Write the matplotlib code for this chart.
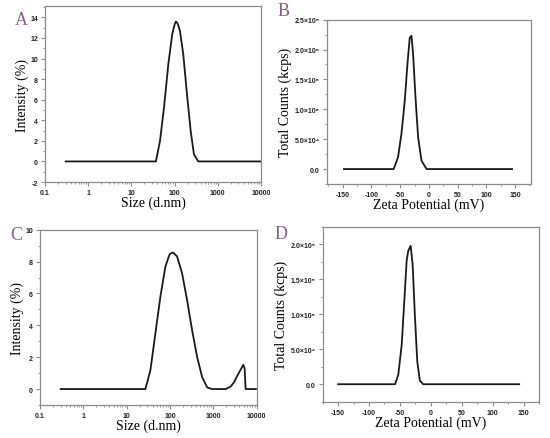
import numpy as np
import matplotlib
matplotlib.use("Agg")
import matplotlib.pyplot as plt
from matplotlib.ticker import AutoMinorLocator, LogLocator, NullFormatter

# Panel A - size distribution (DLS)
size_a = [0.3, 37, 45.9, 56.9, 71.6, 88.5, 100, 107.7, 118, 133, 159, 197, 236, 281, 354, 10000]
int_a = [0, 0, 1.98, 5.23, 9.45, 12.4, 13.3, 13.6, 13.4, 12.7, 10.4, 6.2, 2.95, 0.68, 0, 0]

# Panel B - zeta potential
zeta_b = [-148, -61.3, -53.7, -47.8, -42, -37.3, -33.3, -30.3, -27.5, -23.3, -18.7, -12.8, -4, 145]
cnt_b = [0, 0, 0.2e5, 0.59e5, 1.14e5, 1.76e5, 2.2e5, 2.23e5, 1.93e5, 1.2e5, 0.53e5, 0.14e5, 0, 0]

# Panel C - size distribution with second population
size_c = [0.3, 27, 35.2, 45.9, 60, 78.3, 98.8, 117.9, 146, 190, 248, 324, 424, 553, 721, 942,
          1914, 2500, 2985, 3566, 4264, 4910, 5270, 5560, 9600]
int_c = [0, 0, 1.16, 3.47, 5.79, 7.69, 8.48, 8.57, 8.32, 7.26, 5.58, 3.68, 2.0, 0.74, 0.1, 0,
         0, 0.15, 0.42, 0.84, 1.22, 1.52, 1.3, 0, 0]

# Panel D - zeta potential
zeta_d = [-150, -57.9, -52.6, -47.1, -42.9, -39.1, -36.5, -32.7, -29.5, -25.7, -22, -17.7, -12.4, 143]
cnt_d = [0, 0, 0.14e5, 0.57e5, 1.2e5, 1.77e5, 1.91e5, 1.98e5, 1.72e5, 0.96e5, 0.33e5, 0.05e5, 0, 0]

size_ticks = [0.1, 1, 10, 100, 1000, 10000]
size_labels = ["0.1", "1", "10", "100", "1000", "10000"]
zeta_ticks = [-150, -100, -50, 0, 50, 100, 150]
cnt_ticks_b = [0, 5e4, 1e5, 1.5e5, 2e5, 2.5e5]
cnt_labels_b = ["0.0", "5.0×10⁴", "1.0×10⁵", "1.5×10⁵", "2.0×10⁵", "2.5×10⁵"]
cnt_ticks_d = cnt_ticks_b[:5]
cnt_labels_d = cnt_labels_b[:5]

serif = ["Liberation Serif", "DejaVu Serif"]
sans = ["Liberation Sans", "DejaVu Sans"]
letter_color = "#8a5c8e"
spine_color = "#8c8c8c"
tick_fs = 5.0
label_fs = 10

fig = plt.figure(figsize=(5.5, 4.39), dpi=100)


def style(ax):
    for s in ax.spines.values():
        s.set_color(spine_color)
        s.set_linewidth(0.9)
    ax.tick_params(which="both", direction="out", colors=spine_color, top=False, right=False)
    ax.tick_params(which="major", length=3, width=0.8, pad=2)
    ax.tick_params(which="minor", length=1.6, width=0.6)
    for lab in ax.get_xticklabels() + ax.get_yticklabels():
        lab.set_color("#222222")


def size_panel(rect, x, y, ylim, yticks, letter, lpos):
    ax = fig.add_axes(rect)
    ax.plot(x, y, color="#1a1a1a", lw=1.3)
    ax.set_xscale("log")
    ax.set_xlim(0.1, 10000)
    ax.set_ylim(*ylim)
    ax.set_xticks(size_ticks)
    ax.set_xticklabels(size_labels, fontfamily=sans, fontsize=tick_fs, fontweight="bold")
    ax.xaxis.set_minor_locator(LogLocator(base=10, subs=np.arange(2, 10)))
    ax.xaxis.set_minor_formatter(NullFormatter())
    ax.set_yticks(yticks)
    ax.set_yticklabels([str(v) for v in yticks], fontfamily=sans, fontsize=tick_fs, fontweight="bold")
    ax.yaxis.set_minor_locator(AutoMinorLocator(2))
    ax.set_xlabel("Size (d.nm)", fontfamily=serif, fontsize=label_fs, labelpad=0)
    ax.set_ylabel("Intensity (%)", fontfamily=serif, fontsize=label_fs, labelpad=1)
    style(ax)
    fig.text(lpos[0], lpos[1], letter, fontfamily=serif, fontsize=13, color=letter_color,
             ha="left", va="top")
    return ax


def zeta_panel(rect, x, y, xlim, ylim, yticks, ylabels, letter, lpos):
    ax = fig.add_axes(rect)
    ax.plot(x, y, color="#1a1a1a", lw=1.3)
    ax.set_xlim(*xlim)
    ax.set_ylim(*ylim)
    ax.set_xticks(zeta_ticks)
    ax.set_xticklabels([str(v) for v in zeta_ticks], fontfamily=sans, fontsize=tick_fs, fontweight="bold")
    ax.xaxis.set_minor_locator(AutoMinorLocator(2))
    ax.set_yticks(yticks)
    ax.set_yticklabels(ylabels, fontfamily=sans, fontsize=tick_fs, fontweight="bold")
    ax.yaxis.set_minor_locator(AutoMinorLocator(2))
    ax.set_xlabel("Zeta Potential (mV)", fontfamily=serif, fontsize=label_fs, labelpad=0)
    ax.set_ylabel("Total Counts (kcps)", fontfamily=serif, fontsize=label_fs, labelpad=2)
    style(ax)
    fig.text(lpos[0], lpos[1], letter, fontfamily=serif, fontsize=13, color=letter_color,
             ha="left", va="top")
    return ax


size_panel([0.0818, 0.5831, 0.3927, 0.4009], size_a, int_a, (-2, 15.1),
           [-2, 0, 2, 4, 6, 8, 10, 12, 14], "A", (0.027, 0.972))
zeta_panel([0.594, 0.5786, 0.3715, 0.3743], zeta_b, cnt_b, (-178, 178), (-2.5e4, 2.5e5),
           cnt_ticks_b, cnt_labels_b, "B", (0.505, 0.994))
size_panel([0.0727, 0.0752, 0.394, 0.3993], size_c, int_c, (-1, 10),
           [0, 2, 4, 6, 8, 10], "C", (0.018, 0.483))
zeta_panel([0.5867, 0.0827, 0.3933, 0.398], zeta_d, cnt_d, (-175, 175), (-2.5e4, 2.25e5),
           cnt_ticks_d, cnt_labels_d, "D", (0.499, 0.486))

fig.savefig("out.png", dpi=100, facecolor="white")
